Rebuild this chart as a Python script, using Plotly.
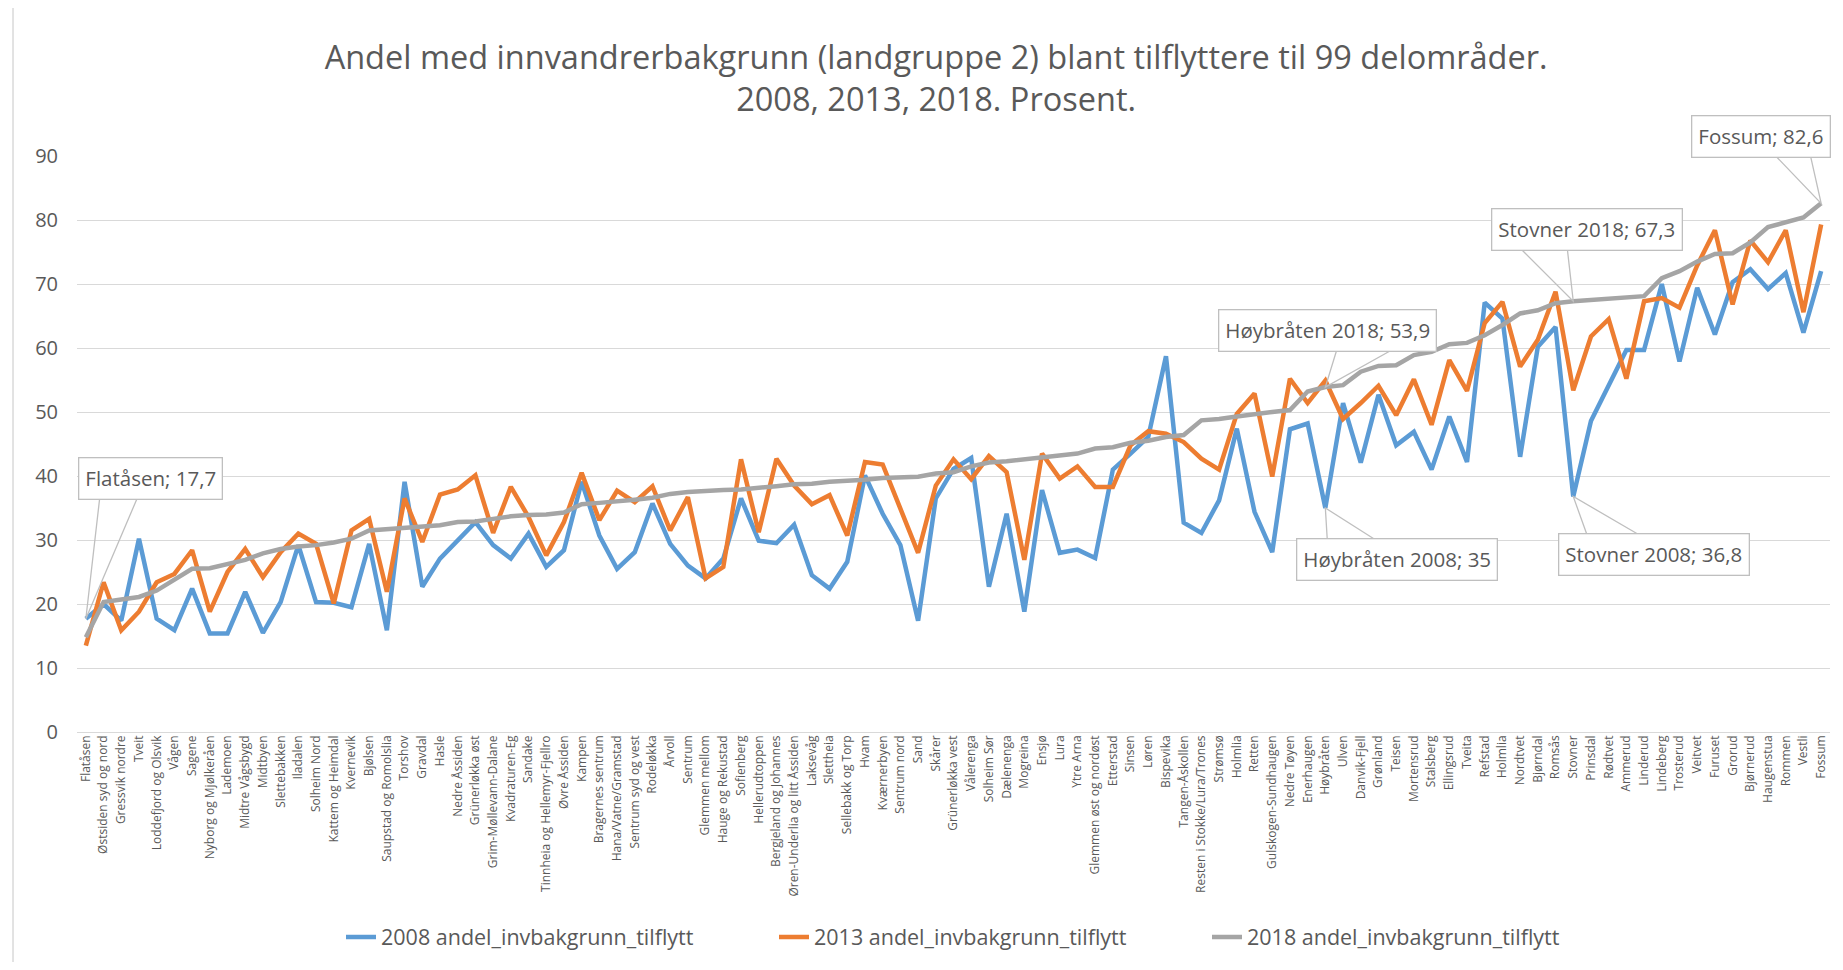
import plotly.graph_objects as go

categories = [
    "Flatåsen", "Østsiden syd og nord", "Gressvik nordre", "Tveit", "Loddefjord og Olsvik",
    "Vågen", "Sagene", "Nyborg og Mjølkeråen", "Lademoen", "Midtre Vågsbygd",
    "Midtbyen", "Slettebakken", "Iladalen", "Solheim Nord", "Kattem og Heimdal",
    "Kvernevik", "Bjølsen", "Saupstad og Romolslia", "Torshov", "Gravdal",
    "Hasle", "Nedre Åssiden", "Grünerløkka øst", "Grim-Møllevann-Dalane", "Kvadraturen-Eg",
    "Sandake", "Tinnheia og Hellemyr-Fjellro", "Øvre Åssiden", "Kampen", "Bragernes sentrum",
    "Hana/Vatne/Gramstad", "Sentrum syd og vest", "Rodeløkka", "Årvoll", "Sentrum",
    "Glemmen mellom", "Hauge og Rekustad", "Sofienberg", "Hellerudtoppen", "Bergjeland og Johannes",
    "Øren-Underlia og litt Åssiden", "Laksevåg", "Slettheia", "Sellebakk og Torp", "Hvam",
    "Kværnerbyen", "Sentrum nord", "Sand", "Skårer", "Grünerløkka vest",
    "Vålerenga", "Solheim Sør", "Dælenenga", "Mogreina", "Ensjø",
    "Lura", "Ytre Arna", "Glemmen øst og nordøst", "Etterstad", "Sinsen",
    "Løren", "Bispevika", "Tangen-Åskollen", "Resten i Stokke/Lura/Trones", "Strømsø",
    "Holmlia", "Retten", "Gulskogen-Sundhaugen", "Nedre Tøyen", "Enerhaugen",
    "Høybråten", "Ulven", "Danvik-Fjell", "Grønland", "Teisen",
    "Mortensrud", "Stalsberg", "Ellingsrud", "Tveita", "Refstad",
    "Holmlia", "Nordtvet", "Bjørndal", "Romsås", "Stovner",
    "Prinsdal", "Rødtvet", "Ammerud", "Linderud", "Lindeberg",
    "Trosterud", "Veitvet", "Furuset", "Grorud", "Bjørnerud",
    "Haugenstua", "Rommen", "Vestli", "Fossum",
]

values_2008 = [
    17.7, 20.0, 17.4, 30.2, 17.7, 15.9, 22.4, 15.4, 15.4, 21.9,
    15.5, 20.3, 29.2, 20.3, 20.2, 19.5, 29.4, 15.9, 39.1, 22.7,
    27.1, 29.9, 32.8, 29.2, 27.1, 31.0, 25.8, 28.4, 39.1, 30.7,
    25.5, 28.1, 35.7, 29.4, 26.0, 24.0, 27.1, 36.5, 29.9, 29.5,
    32.4, 24.5, 22.4, 26.6, 40.1, 34.1, 29.2, 17.4, 36.5, 41.1,
    42.8, 22.7, 34.1, 18.8, 37.8, 28.0, 28.5, 27.2, 41.0, 43.5,
    46.1, 58.7, 32.7, 31.1, 36.2, 47.4, 34.4, 28.1, 47.3, 48.2,
    35.0, 51.4, 42.1, 52.7, 44.8, 46.9, 41.0, 49.3, 42.2, 67.1,
    64.6, 43.0, 60.2, 63.3, 36.8, 48.6, 54.1, 59.7, 59.7, 70.0,
    57.9, 69.4, 62.1, 70.3, 72.3, 69.2, 71.7, 62.4, 72.0,
]

values_2013 = [
    13.5, 23.4, 15.9, 18.8, 23.4, 24.7, 28.4, 18.8, 25.0, 28.6,
    24.2, 28.1, 31.0, 29.4, 20.1, 31.5, 33.3, 21.9, 36.5, 29.7,
    37.1, 37.9, 40.1, 31.1, 38.3, 33.6, 27.6, 32.8, 40.5, 33.1,
    37.7, 35.9, 38.4, 31.5, 36.7, 24.0, 25.8, 42.6, 31.2, 42.7,
    38.5, 35.6, 37.0, 30.7, 42.2, 41.8, 34.9, 28.0, 38.5, 42.6,
    39.5, 43.1, 40.6, 26.9, 43.5, 39.6, 41.5, 38.3, 38.3, 44.8,
    47.0, 46.6, 45.3, 42.7, 41.0, 49.7, 52.9, 39.9, 55.2, 51.4,
    54.9, 48.9, 51.4, 54.1, 49.5, 55.1, 48.0, 58.1, 53.3, 63.9,
    67.2, 57.1, 61.3, 68.8, 53.4, 61.8, 64.5, 55.2, 67.3, 67.8,
    66.3, 72.9, 78.4, 66.8, 76.8, 73.4, 78.4, 65.6, 79.3,
]

values_2018 = [
    14.8, 20.3, 20.7, 21.1, 22.1, 23.7, 25.5, 25.6, 26.3, 26.9,
    27.9, 28.6, 29.0, 29.2, 29.6, 30.2, 31.5, 31.7, 31.8, 32.0,
    32.3, 32.8, 32.9, 33.3, 33.7, 33.9, 34.0, 34.3, 35.6, 35.8,
    36.0, 36.3, 36.6, 37.2, 37.5, 37.7, 37.8, 37.9, 38.1, 38.4,
    38.7, 38.8, 39.1, 39.2, 39.4, 39.7, 39.8, 39.9, 40.4, 40.6,
    41.5, 42.1, 42.3, 42.6, 43.0, 43.2, 43.5, 44.3, 44.5, 45.2,
    45.5, 46.1, 46.4, 48.7, 48.9, 49.3, 49.7, 50.0, 50.3, 53.2,
    53.9, 54.2, 56.3, 57.2, 57.3, 58.9, 59.4, 60.6, 60.8, 62.0,
    63.6, 65.4, 65.9, 67.0, 67.3, 67.5, 67.7, 68.0, 68.1, 70.9,
    72.0, 73.5, 74.7, 74.8, 76.5, 78.9, 79.6, 80.4, 82.6,
]

series_names = ["2008 andel_invbakgrunn_tilflytt", "2013 andel_invbakgrunn_tilflytt",
                "2018 andel_invbakgrunn_tilflytt"]
series_colors = ["#5B9BD5", "#ED7D31", "#A5A5A5"]
y_ticks = [0, 10, 20, 30, 40, 50, 60, 70, 80, 90]

title_text = ("Andel med innvandrerbakgrunn (landgruppe 2) blant tilflyttere til 99 delområder."
              "<br>2008, 2013, 2018. Prosent.")

FONT = "Open Sans"
TXT = "#595959"
GRID = "#D9D9D9"

x_idx = list(range(len(categories)))
all_series = [values_2008, values_2013, values_2018]

fig = go.Figure()
for name, vals, col in zip(series_names, all_series, series_colors):
    fig.add_trace(go.Scatter(
        x=x_idx, y=vals, mode="lines", name=name,
        line=dict(color=col, width=4.5, shape="linear"),
        hoverinfo="skip",
    ))


def fmt(v):
    s = f"{v:.1f}".replace(".", ",")
    if s.endswith(",0"):
        s = s[:-2]
    return s


# callouts: (index, series, label prefix, box dx, box dy(up), wedge base pts (dx, dy up))
callouts = [
    (0, 0, categories[0], 65, 140, [(14, 122), (52, 122)]),
    (70, 2, categories[70] + " 2018", 2, 57, [(12, 39), (70, 39)]),
    (70, 0, categories[70] + " 2008", 72, -51, [(2, -33), (52, -33)]),
    (84, 2, categories[84] + " 2018", 14, 72, [(-53, 53), (-6, 53)]),
    (84, 0, categories[84] + " 2008", 81, -58, [(14, -39), (67, -39)]),
    (98, 2, categories[98], -60, 67, [(-47, 49), (-11, 49)]),
]

shapes = []
annotations = []
for idx, s, prefix, dx, dy, wedge in callouts:
    yv = all_series[s][idx]
    (ax1, ay1), (ax2, ay2) = wedge
    shapes.append(dict(
        type="path", xref="x", yref="y", xsizemode="pixel", ysizemode="pixel",
        xanchor=idx, yanchor=yv,
        path=f"M {ax1},{ay1} L 0,0 L {ax2},{ay2}",
        line=dict(color="#BFBFBF", width=1.3), layer="above",
    ))
    annotations.append(dict(
        x=idx, y=yv, xref="x", yref="y", showarrow=False,
        xshift=dx, yshift=dy,
        text=f"{prefix}; {fmt(yv)}",
        font=dict(family=FONT, size=20.5, color=TXT),
        bgcolor="white", bordercolor="#BFBFBF", borderwidth=1.3, borderpad=6,
        xanchor="center", yanchor="middle",
    ))

# chart frame line on the left
shapes.append(dict(type="line", xref="paper", yref="paper", x0=-0.0365, x1=-0.0365,
                   y0=-0.42, y1=1.3, line=dict(color=GRID, width=1.5), layer="below"))

fig.update_layout(
    width=1827, height=954,
    paper_bgcolor="white", plot_bgcolor="white",
    margin=dict(l=69, r=5, t=148, b=230),
    font=dict(family=FONT, color=TXT),
    title=dict(text=title_text, x=0.508, xref="container", xanchor="center",
               y=0.936, yref="container", yanchor="top",
               font=dict(family=FONT, size=32.5, color=TXT)),
    xaxis=dict(
        range=[-0.5, len(categories) - 0.5],
        tickmode="array", tickvals=x_idx, ticktext=categories,
        tickangle=-90, tickfont=dict(family=FONT, size=12, color=TXT),
        showgrid=False, zeroline=False, showline=False, ticks="",
    ),
    yaxis=dict(
        range=[0, 90], tickmode="array", tickvals=y_ticks,
        tickfont=dict(family=FONT, size=20, color=TXT),
        showgrid=True, gridcolor=GRID, gridwidth=1.3,
        zeroline=True, zerolinecolor=GRID, zerolinewidth=1.3,
        showline=False, ticks="", ticklabelstandoff=18,
    ),
    legend=dict(orientation="h", x=0.1506, xanchor="left", y=-0.356, yanchor="middle",
                font=dict(family=FONT, size=21.5, color=TXT),
                entrywidth=388, entrywidthmode="pixels",
                tracegroupgap=0),
    shapes=shapes,
    annotations=annotations,
    showlegend=True,
)

fig.write_html("out.html")
